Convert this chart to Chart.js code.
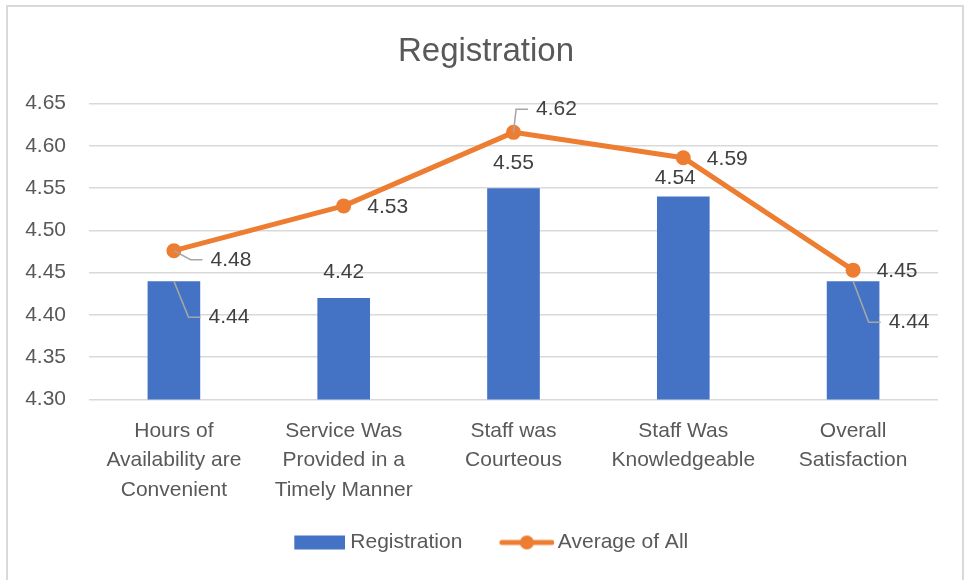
<!DOCTYPE html>
<html>
<head>
<meta charset="utf-8">
<script src="https://cdn.jsdelivr.net/npm/chart.js@4"></script>
<style>
  html, body { margin: 0; padding: 0; background: #fff; }
  #wrap { position: relative; width: 969px; height: 580px; overflow: hidden; }
  #frame { position: absolute; left: 6px; top: 5px; width: 958px; height: 600px; border: 2px solid #D9D9D9; box-sizing: border-box; }
  #chart { position: absolute; left: 0; top: 0; }
</style>
</head>
<body>
<div id="wrap">
  <div id="frame"></div>
  <canvas id="chart" width="969" height="580"></canvas>
</div>
<script>
// Data
const categories = [
    ['Hours of', 'Availability are', 'Convenient'],
    ['Service Was', 'Provided in a', 'Timely Manner'],
    ['Staff was', 'Courteous'],
    ['Staff Was', 'Knowledgeable'],
    ['Overall', 'Satisfaction']
];
const registration = [4.44, 4.42, 4.55, 4.54, 4.44];
const averageOfAll = [4.476, 4.529, 4.616, 4.586, 4.453];
const yTicks = { min: 4.30, max: 4.65, step: 0.05 };

// label placement relative to each mark: [dx, dy, leader line]
const barLabelOffsets = [[55, 36, true], [0, -26, false], [0, -25, false], [-8, -18, false], [56, 41, true]];
const lineLabelOffsets = [[57, 9, true], [44, 1, false], [43, -23, true], [44, 1, false], [44, 1, false]];

const BLUE = '#4472C4';
const ORANGE = '#ED7D31';
const FONT = 'Liberation Sans, Arial, sans-serif';

// legend swatches drawn to small canvases
function swatch(w, h, drawFn) {
    const c = document.createElement('canvas');
    c.width = w; c.height = h;
    drawFn(c.getContext('2d'), w, h);
    return c;
}
const LEG_W = 75;
const barSwatch = swatch(LEG_W + 11, 16, (g, w, h) => {
    g.fillStyle = BLUE;
    g.fillRect(w - 51, 1, 51, 14);
});
const lineSwatch = swatch(LEG_W + 13, 16, (g, w, h) => {
    g.strokeStyle = ORANGE;
    g.lineWidth = 5;
    g.lineCap = 'round';
    g.beginPath();
    g.moveTo(w - 52, h / 2);
    g.lineTo(w - 2, h / 2);
    g.stroke();
    g.fillStyle = ORANGE;
    g.beginPath();
    g.arc(w - 27, h / 2, 7, 0, Math.PI * 2);
    g.fill();
});

const dataLabels = {
    id: 'dataLabels',
    afterDatasetsDraw(chart) {
        const ctx = chart.ctx;
        ctx.save();
        ctx.font = '21px ' + FONT;
        ctx.fillStyle = '#404040';
        ctx.textAlign = 'center';
        ctx.textBaseline = 'middle';
        const sets = [[0, barLabelOffsets], [1, lineLabelOffsets]];
        sets.forEach(([di, offs]) => {
            const meta = chart.getDatasetMeta(di);
            const vals = chart.data.datasets[di].data;
            meta.data.forEach((el, i) => {
                const [dx, dy, leader] = offs[i];
                const txt = vals[i].toFixed(2);
                const cx = el.x + dx, cy = el.y + dy;
                if (leader) {
                    const w = ctx.measureText(txt).width;
                    const left = cx - w / 2;
                    ctx.strokeStyle = '#A6A6A6';
                    ctx.lineWidth = 1.5;
                    ctx.beginPath();
                    ctx.moveTo(el.x, el.y);
                    ctx.lineTo(left - 20, cy);
                    ctx.lineTo(left - 8, cy);
                    ctx.stroke();
                }
                ctx.fillText(txt, cx, cy);
            });
        });
        ctx.restore();
    }
};

// nudge the title a little right, as in the original
const titleShift = {
    id: 'titleShift',
    afterLayout(chart) {
        if (chart.titleBlock) chart.titleBlock.left += 19;
    }
};

new Chart(document.getElementById('chart').getContext('2d'), {
    type: 'bar',
    data: {
        labels: categories,
        datasets: [
            {
                type: 'bar',
                label: 'Registration',
                data: registration,
                backgroundColor: BLUE,
                barPercentage: 0.31,
                categoryPercentage: 1.0,
                order: 1
            },
            {
                type: 'line',
                label: 'Average of All',
                data: averageOfAll,
                borderColor: ORANGE,
                backgroundColor: ORANGE,
                borderWidth: 5,
                pointRadius: 7.5,
                pointBorderWidth: 0,
                pointBackgroundColor: ORANGE,
                borderJoinStyle: 'round',
                tension: 0,
                order: 0
            }
        ]
    },
    options: {
        responsive: false,
        animation: false,
        layout: { padding: { left: 15, right: 31, top: 0, bottom: 17 } },
        plugins: {
            title: {
                display: true,
                text: 'Registration',
                color: '#595959',
                font: { family: FONT, size: 33, weight: 'normal' },
                padding: { top: 32, bottom: 32 }
            },
            legend: {
                position: 'bottom',
                labels: {
                    usePointStyle: true,
                    pointStyleWidth: LEG_W,
                    color: '#595959',
                    font: { family: FONT, size: 21 },
                    padding: 10,
                    generateLabels: () => [
                        { text: 'Registration', pointStyle: barSwatch, fontColor: '#595959', datasetIndex: 0, lineWidth: 0 },
                        { text: 'Average of All', pointStyle: lineSwatch, fontColor: '#595959', datasetIndex: 1, lineWidth: 0 }
                    ]
                }
            },
            tooltip: { enabled: false }
        },
        scales: {
            x: {
                grid: { display: false },
                border: { display: false },
                ticks: {
                    color: '#595959',
                    font: { family: FONT, size: 21, lineHeight: 1.4 },
                    padding: 9,
                    maxRotation: 0,
                    autoSkip: false
                },
                afterFit(scale) { scale.height = 122.5; }
            },
            y: {
                min: yTicks.min,
                max: yTicks.max,
                grid: { color: '#D9D9D9', lineWidth: 1.5, drawTicks: false },
                border: { display: false },
                ticks: {
                    stepSize: yTicks.step,
                    color: '#595959',
                    font: { family: FONT, size: 21 },
                    padding: 23,
                    callback: v => v.toFixed(2)
                },
                afterFit(scale) { scale.width = 74; }
            }
        }
    },
    plugins: [dataLabels, titleShift]
});
</script>
</body>
</html>
